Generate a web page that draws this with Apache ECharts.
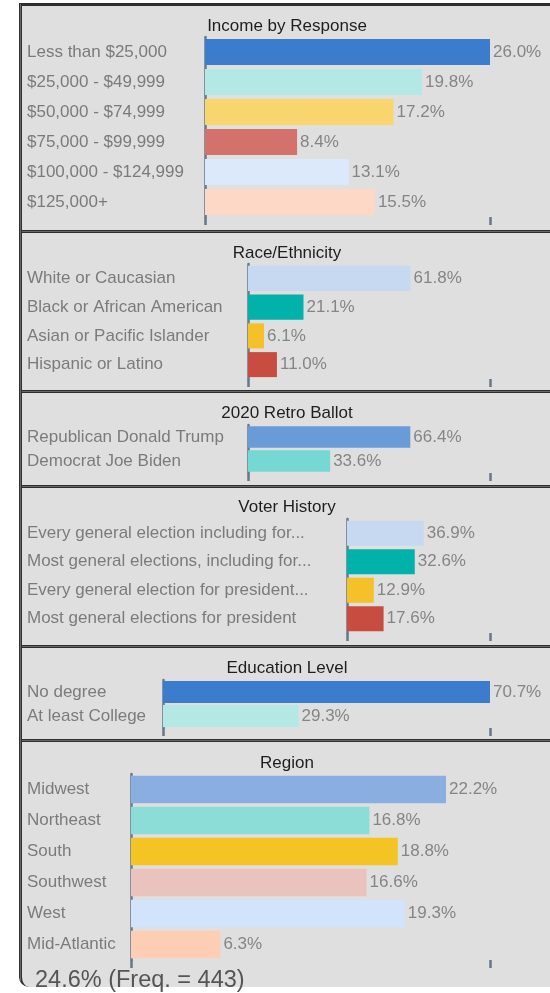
<!DOCTYPE html>
<html><head><meta charset="utf-8">
<script src="https://cdn.jsdelivr.net/npm/echarts@6/dist/echarts.min.js"></script>
<style>
html,body{margin:0;padding:0;width:550px;height:993px;overflow:hidden;background:#fff;}
#frame{position:absolute;left:19px;top:3px;width:640px;height:981px;background:#dfdfdf;border-left:3px solid #2e2e2e;border-top:3px solid #2e2e2e;border-bottom-left-radius:10px;}
#frame:before{content:'';position:absolute;left:-2px;top:-2px;width:1px;bottom:6px;background:#6a6a6a;}
.sep{position:absolute;left:22px;width:560px;height:1px;border-top:1px solid #2e2e2e;border-bottom:1px solid #2e2e2e;background:#6a6a6a;}
#chart{position:absolute;left:0;top:0;width:550px;height:993px;}
</style></head><body>
<div id="frame"></div>
<div class="sep" style="top:230px"></div>
<div class="sep" style="top:390px"></div>
<div class="sep" style="top:485px"></div>
<div class="sep" style="top:645px"></div>
<div class="sep" style="top:739px"></div>
<div id="chart"></div>
<script>
// ---- data ----
const incomeTitle = 'Income by Response';
const incomeCats = ['Less than $25,000', '$25,000 - $49,999', '$50,000 - $74,999', '$75,000 - $99,999', '$100,000 - $124,999', '$125,000+'];
const incomeVals = [26.0, 19.8, 17.2, 8.4, 13.1, 15.5];

const raceTitle = 'Race/Ethnicity';
const raceCats = ['White or Caucasian', 'Black or African American', 'Asian or Pacific Islander', 'Hispanic or Latino'];
const raceVals = [61.8, 21.1, 6.1, 11.0];

const ballotTitle = '2020 Retro Ballot';
const ballotCats = ['Republican Donald Trump', 'Democrat Joe Biden'];
const ballotVals = [66.4, 33.6];

const voterTitle = 'Voter History';
const voterCats = ['Every general election including for...', 'Most general elections, including for...', 'Every general election for president...', 'Most general elections for president'];
const voterVals = [36.9, 32.6, 12.9, 17.6];

const eduTitle = 'Education Level';
const eduCats = ['No degree', 'At least College'];
const eduVals = [70.7, 29.3];

const regionTitle = 'Region';
const regionCats = ['Midwest', 'Northeast', 'South', 'Southwest', 'West', 'Mid-Atlantic'];
const regionVals = [22.2, 16.8, 18.8, 16.6, 19.3, 6.3];

const footerText = '24.6% (Freq. = 443)';

// ---- styles ----
const incomeColors = ['#3b7ccc', '#b3e8e4', '#f8d66d', '#d3726a', '#dce9fa', '#fed8c7'];
const raceColors = ['#c6d9f1', '#00b2a9', '#f4c228', '#c84c3f'];
const ballotColors = ['#6a9bd9', '#76d8d2'];
const voterColors = ['#c6d9f1', '#00b2a9', '#f4c228', '#c84c3f'];
const eduColors = ['#3b7ccc', '#b3e8e4'];
const regionColors = ['#8aaee0', '#8cddd8', '#f4c324', '#ebc3be', '#d1e4fb', '#fdcdb4'];

const FONT = '"Liberation Sans", Arial, sans-serif';
const panels = [
  {title: incomeTitle, cats: incomeCats, vals: incomeVals, colors: incomeColors, max: 26.0, left: 205, top: 37, height: 180, titleY: 27, gap: '13%'},
  {title: raceTitle, cats: raceCats, vals: raceVals, colors: raceColors, max: 92, left: 248, top: 264, height: 115, titleY: 254, gap: '13%'},
  {title: ballotTitle, cats: ballotCats, vals: ballotVals, colors: ballotColors, max: 99, left: 248, top: 425, height: 48, titleY: 414, gap: '11%'},
  {title: voterTitle, cats: voterCats, vals: voterVals, colors: voterColors, max: 68.8, left: 347, top: 519, height: 114, titleY: 508, gap: '12%'},
  {title: eduTitle, cats: eduCats, vals: eduVals, colors: eduColors, max: 70.7, left: 163, top: 680, height: 48, titleY: 669, gap: '9%'},
  {title: regionTitle, cats: regionCats, vals: regionVals, colors: regionColors, max: 25.3, left: 131, top: 774, height: 186, titleY: 764, gap: '11%'}
];

const axisColor = '#66788a';
const option = {
  animation: false,
  backgroundColor: 'transparent',
  title: [],
  grid: [], xAxis: [], yAxis: [], series: []
};
panels.forEach((p, i) => {
  option.title.push({
    text: p.title, left: 287, top: p.titleY - 9, textAlign: 'center', padding: 0,
    textStyle: {fontSize: 17, fontWeight: 'normal', color: '#1e1e1e', fontFamily: FONT}
  });
  option.grid.push({left: p.left, right: 60, top: p.top, height: p.height, containLabel: false});
  option.xAxis.push({
    gridIndex: i, type: 'value', min: 0, max: p.max, interval: p.max,
    axisLine: {show: false}, axisLabel: {show: false}, splitLine: {show: false},
    axisTick: {show: true, length: 8, lineStyle: {color: axisColor, width: 2.5}}
  });
  option.yAxis.push({
    gridIndex: i, type: 'category', data: p.cats, inverse: true,
    axisLine: {show: true, lineStyle: {color: axisColor, width: 2.5}},
    axisTick: {show: false},
    axisLabel: {align: 'left', margin: p.left - 27, color: '#7b7b7b', fontSize: 17, fontFamily: FONT}
  });
  option.series.push({
    type: 'bar', xAxisIndex: i, yAxisIndex: i, barCategoryGap: p.gap,
    data: p.vals.map((v, k) => ({value: v, itemStyle: {color: p.colors[k]}})),
    label: {show: true, position: 'right', distance: 3, color: '#858585', fontSize: 17, fontFamily: FONT,
      formatter: q => q.value.toFixed(1) + '%'}
  });
});
option.title.push({
  text: footerText, left: 35, top: 969, padding: 0,
  textStyle: {fontSize: 23.5, fontWeight: 'normal', color: '#555', fontFamily: FONT}
});
const chart = echarts.init(document.getElementById('chart'), null, {renderer: 'canvas'});
chart.setOption(option);
</script>
</body></html>
